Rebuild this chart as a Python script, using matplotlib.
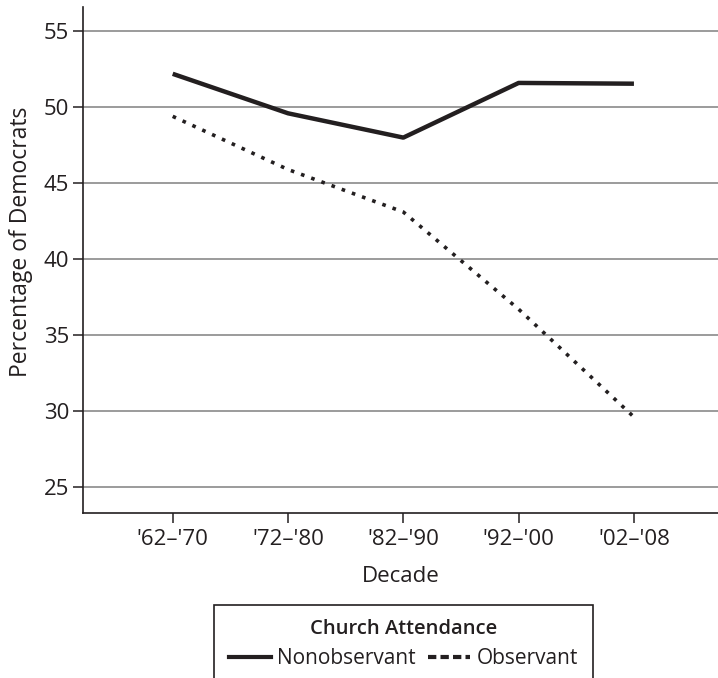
import matplotlib
matplotlib.use('Agg')
import matplotlib.pyplot as plt
from matplotlib.lines import Line2D
from matplotlib.patches import Rectangle

# Data
decades = ["'62\u2013'70", "'72\u2013'80", "'82\u2013'90", "'92\u2013'00", "'02\u2013'08"]
nonobservant = [52.2, 49.6, 48.0, 51.6, 51.55]
observant = [49.4, 45.9, 43.1, 36.7, 29.6]
y_ticks = [25, 30, 35, 40, 45, 50, 55]

plt.rcParams['font.family'] = ['Open Sans', 'DejaVu Sans']
text_color = '#231f20'

fig = plt.figure(figsize=(7.18, 6.78), dpi=100)
ax = fig.add_axes([83 / 718, 1 - 512.7 / 678, 1 - 83 / 718, (512.7 - 7) / 678])

x = list(range(len(decades)))
ax.plot(x, nonobservant, color=text_color, linewidth=3.2, solid_capstyle='butt', zorder=3)
ax.plot(x, observant, color=text_color, linewidth=2.6, linestyle=(0, (1, 2)),
        dash_capstyle='butt', zorder=3)

ax.set_xlim(-0.778, 4.729)
ax.set_ylim(23.3, 56.6)
ax.set_xticks(x)
ax.set_xticklabels(decades)
ax.set_yticks(y_ticks)

ax.yaxis.grid(True, color='#8a8a8a', linewidth=1.2)
ax.set_axisbelow(True)

for side in ['top', 'right']:
    ax.spines[side].set_visible(False)
for side in ['left', 'bottom']:
    ax.spines[side].set_linewidth(1.2)
    ax.spines[side].set_color(text_color)

ax.tick_params(axis='both', length=7, width=1.1, color=text_color,
               labelsize=16, labelcolor=text_color)
ax.tick_params(axis='y', pad=3)
ax.tick_params(axis='x', pad=5)
ax.set_xlabel('Decade', fontsize=16, color=text_color, labelpad=11)
ax.set_ylabel('Percentage of Democrats', fontsize=16.5, color=text_color)
ax.yaxis.set_label_coords(-0.079, (512.7 - 242) / 505.7)

handles = [Line2D([], [], color=text_color, linewidth=3.0),
           Line2D([], [], color=text_color, linewidth=3.0, linestyle=(0, (2, 1)))]
leg = fig.legend(handles, ['Nonobservant', 'Observant'], loc='upper center',
                 bbox_to_anchor=(403.5 / 718, 1 - 619 / 678), ncol=2,
                 title='Church Attendance', fontsize=15, title_fontsize=14.5,
                 frameon=False, handlelength=2.0, handletextpad=0.3,
                 columnspacing=0.6, labelspacing=0.45, borderpad=0.0,
                 borderaxespad=0)
leg.get_title().set_fontweight(600)
leg.get_title().set_color(text_color)
for t in leg.get_texts():
    t.set_color(text_color)

# box round the legend, left open below the figure edge as in the original
box = Rectangle((214 / 718, -0.05), (593 - 214) / 718, (1 - 605 / 678) + 0.05,
                transform=fig.transFigure, fill=False, edgecolor=text_color,
                linewidth=1.2)
fig.add_artist(box)

fig.savefig('out.png', dpi=100)
